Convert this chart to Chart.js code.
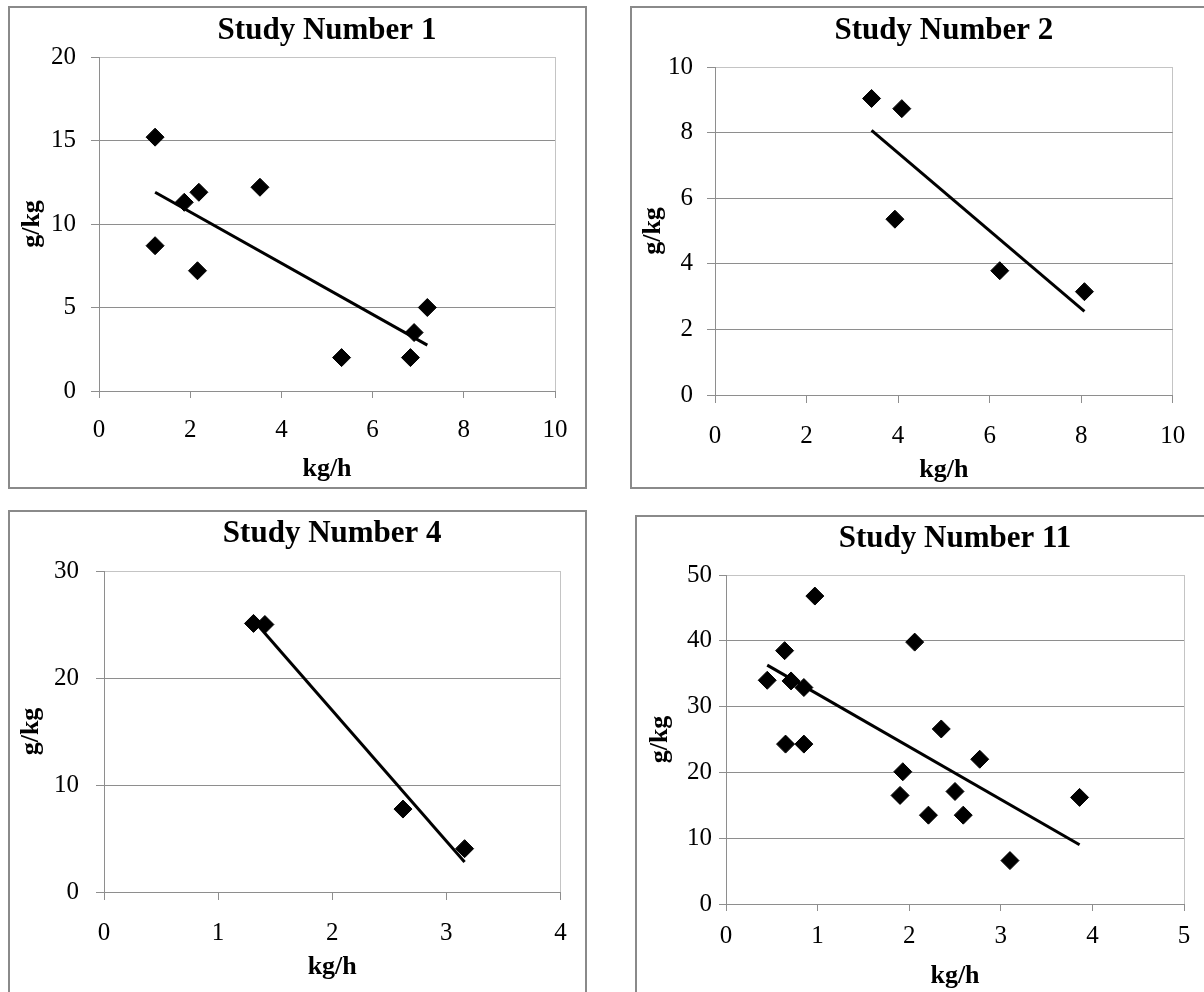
<!DOCTYPE html>
<html>
<head>
<meta charset="utf-8">
<title>Study Number 1, 2, 4, 11</title>
<script src="https://cdn.jsdelivr.net/npm/chart.js@4.4.1/dist/chart.umd.min.js"></script>
<style>
  html, body { margin: 0; padding: 0; background: #fff; overflow: hidden; }
  body { width: 1204px; height: 992px; position: relative; }
  .panel { position: absolute; border: 2px solid #8a8a8a; box-sizing: border-box; }
  canvas { position: absolute; }
</style>
</head>
<body>
<div class="panel" style="left:8px;top:6px;width:579px;height:483px"></div>
<div class="panel" style="left:630px;top:6px;width:600px;height:483px"></div>
<div class="panel" style="left:8px;top:510px;width:579px;height:520px"></div>
<div class="panel" style="left:635px;top:515px;width:600px;height:520px"></div>

<script>
// Axis titles
const xAxisTitle = 'kg/h';
const yAxisTitle = 'g/kg';

// Study Number 1
const study1X = [1.23, 1.23, 1.87, 2.19, 2.16, 3.53, 5.32, 6.83, 6.91, 7.2];
const study1Y = [15.2, 8.7, 11.3, 11.9, 7.2, 12.2, 2.0, 2.0, 3.5, 5.0];
const study1TrendX = [1.23, 7.2];
const study1TrendY = [11.9, 2.75];
const study1XTicks = [0, 2, 4, 6, 8, 10];
const study1YTicks = [0, 5, 10, 15, 20];

// Study Number 2
const study2X = [3.42, 4.08, 3.93, 6.22, 8.07];
const study2Y = [9.04, 8.73, 5.36, 3.79, 3.15];
const study2TrendX = [3.42, 8.07];
const study2TrendY = [8.07, 2.55];
const study2XTicks = [0, 2, 4, 6, 8, 10];
const study2YTicks = [0, 2, 4, 6, 8, 10];

// Study Number 4
const study4X = [1.31, 1.41, 2.62, 3.16];
const study4Y = [25.1, 25.0, 7.75, 4.05];
const study4TrendX = [1.31, 3.16];
const study4TrendY = [25.4, 2.8];
const study4XTicks = [0, 1, 2, 3, 4];
const study4YTicks = [0, 10, 20, 30];

// Study Number 11
const study11X = [0.45, 0.64, 0.71, 0.85, 0.97, 0.65, 0.85, 2.06, 1.93, 1.90, 2.21, 2.35, 2.50, 2.59, 2.77, 3.10, 3.86];
const study11Y = [34.0, 38.5, 33.9, 32.9, 46.8, 24.3, 24.3, 39.8, 20.1, 16.5, 13.5, 26.6, 17.1, 13.5, 22.0, 6.6, 16.2];
const study11TrendX = [0.45, 3.86];
const study11TrendY = [36.3, 9.0];
const study11XTicks = [0, 1, 2, 3, 4, 5];
const study11YTicks = [0, 10, 20, 30, 40, 50];

const FONT = "'Liberation Serif', 'Times New Roman', serif";
const TITLE_SIZE = 31;
const AXIS_TITLE_SIZE = 26;
const TICK_SIZE = 25;
const GRID = '#8e8e8e';
const FRAME = '#c4c4c4';

// page positions of each panel (canvas box, plot area, text centres)
const layouts = [
  { canvas: {x: 10, y: 8, w: 575, h: 479}, plot: {L: 99, R: 557, T: 57, B: 391},
    titleY: 30.5, xTitleY: 469.5, yTitleX: 32, yTickLen: 8, yLabelRight: 76, xTickLen: 7, xLabelY: 430.5 },
  { canvas: {x: 632, y: 8, w: 572, h: 479}, plot: {L: 715, R: 1179, T: 67, B: 395},
    titleY: 30.7, xTitleY: 470, yTitleX: 653.7, yTickLen: 8, yLabelRight: 693, xTickLen: 8, xLabelY: 436.7 },
  { canvas: {x: 10, y: 512, w: 575, h: 480}, plot: {L: 104, R: 563, T: 571, B: 892},
    titleY: 534, xTitleY: 967, yTitleX: 31, yTickLen: 8, yLabelRight: 79, xTickLen: 8, xLabelY: 933.3 },
  { canvas: {x: 638, y: 517, w: 566, h: 475}, plot: {L: 726, R: 1184, T: 575, B: 904},
    titleY: 539, xTitleY: 978.5, yTitleX: 660, yTickLen: 7, yLabelRight: 712, xTickLen: 7, xLabelY: 936.7 }
];

const studies = [
  { title: 'Study Number 1', x: study1X, y: study1Y, tx: study1TrendX, ty: study1TrendY, xTicks: study1XTicks, yTicks: study1YTicks },
  { title: 'Study Number 2', x: study2X, y: study2Y, tx: study2TrendX, ty: study2TrendY, xTicks: study2XTicks, yTicks: study2YTicks },
  { title: 'Study Number 4', x: study4X, y: study4Y, tx: study4TrendX, ty: study4TrendY, xTicks: study4XTicks, yTicks: study4YTicks },
  { title: 'Study Number 11', x: study11X, y: study11Y, tx: study11TrendX, ty: study11TrendY, xTicks: study11XTicks, yTicks: study11YTicks }
];

function toPoints(xs, ys) {
  return xs.map((x, i) => ({ x: x, y: ys[i] }));
}

function buildChart(study, lay) {
  const c = lay.canvas, p = lay.plot;
  const canvas = document.createElement('canvas');
  canvas.width = c.w;
  canvas.height = c.h;
  canvas.style.left = c.x + 'px';
  canvas.style.top = c.y + 'px';
  canvas.style.width = c.w + 'px';
  canvas.style.height = c.h + 'px';
  document.body.appendChild(canvas);

  const titleLH = TITLE_SIZE * 1.2;
  const axisLH = AXIS_TITLE_SIZE * 1.2;
  const tickLH = TICK_SIZE * 1.2;
  const titleTop = lay.titleY - c.y - titleLH / 2;
  const titleBottom = p.T - c.y - titleTop - titleLH;
  const yAxisWidth = p.L - c.x;
  const xAxisHeight = c.y + c.h - p.B;
  const xMax = study.xTicks[study.xTicks.length - 1];
  const yMax = study.yTicks[study.yTicks.length - 1];

  return new Chart(canvas, {
    type: 'scatter',
    data: {
      datasets: [
        {
          data: toPoints(study.x, study.y),
          pointStyle: 'rectRot',
          pointRadius: 9,
          pointHoverRadius: 9,
          backgroundColor: '#000',
          borderColor: '#000',
          borderWidth: 1
        },
        {
          type: 'line',
          data: toPoints(study.tx, study.ty),
          borderColor: '#000',
          borderWidth: 3,
          pointRadius: 0,
          fill: false,
          tension: 0
        }
      ]
    },
    options: {
      responsive: false,
      animation: false,
      layout: { padding: { left: 0, top: 0, right: c.x + c.w - p.R, bottom: 0 } },
      plugins: {
        legend: { display: false },
        tooltip: { enabled: false },
        title: {
          display: true,
          text: study.title,
          fullSize: false,
          color: '#000',
          font: { family: FONT, size: TITLE_SIZE, weight: 'bold' },
          padding: { top: titleTop, bottom: titleBottom }
        }
      },
      scales: {
        x: {
          type: 'linear',
          min: study.xTicks[0],
          max: xMax,
          afterFit: s => { s.height = xAxisHeight; },
          ticks: {
            stepSize: study.xTicks[1] - study.xTicks[0],
            autoSkip: false,
            maxRotation: 0,
            color: '#000',
            padding: lay.xLabelY - p.B - lay.xTickLen - tickLH / 2,
            font: { family: FONT, size: TICK_SIZE }
          },
          grid: {
            color: ctx => (ctx.tick && ctx.tick.value === xMax) ? FRAME : 'rgba(0,0,0,0)',
            tickColor: GRID,
            tickLength: lay.xTickLen,
            lineWidth: 1
          },
          border: { display: true, color: GRID, width: 1 },
          title: {
            display: true,
            text: xAxisTitle,
            color: '#000',
            font: { family: FONT, size: AXIS_TITLE_SIZE, weight: 'bold' },
            padding: { top: 0, bottom: Math.max(0, c.y + c.h - lay.xTitleY - axisLH / 2) }
          }
        },
        y: {
          type: 'linear',
          min: study.yTicks[0],
          max: yMax,
          afterFit: s => { s.width = yAxisWidth; },
          ticks: {
            stepSize: study.yTicks[1] - study.yTicks[0],
            color: '#000',
            padding: p.L - lay.yTickLen - lay.yLabelRight,
            font: { family: FONT, size: TICK_SIZE }
          },
          grid: {
            color: ctx => (ctx.tick && ctx.tick.value === yMax) ? FRAME : GRID,
            tickColor: GRID,
            tickLength: lay.yTickLen,
            lineWidth: 1
          },
          border: { display: true, color: GRID, width: 1 },
          title: {
            display: true,
            text: yAxisTitle,
            color: '#000',
            font: { family: FONT, size: AXIS_TITLE_SIZE, weight: 'bold' },
            padding: { top: lay.yTitleX - c.x - axisLH / 2, bottom: 0 }
          }
        }
      }
    }
  });
}

studies.forEach((s, i) => buildChart(s, layouts[i]));
</script>
</body>
</html>
